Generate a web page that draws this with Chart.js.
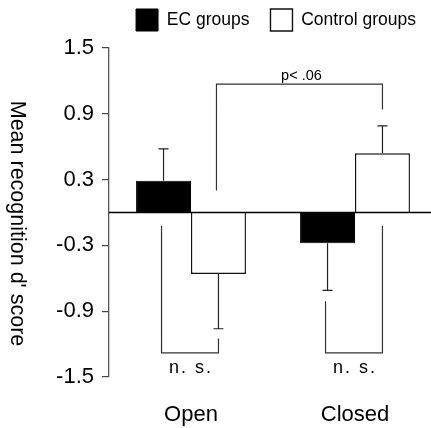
<!DOCTYPE html>
<html>
<head>
<meta charset="utf-8">
<script src="https://cdn.jsdelivr.net/npm/chart.js@4.4.1/dist/chart.umd.min.js"></script>
<style>
    html, body { margin: 0; padding: 0; background: #fff; overflow: hidden; }
    #caja { width: 437px; height: 428px; }
</style>
</head>
<body>
<div id="caja"><canvas id="barras"></canvas></div>
<script>
// datos
var categorias = ["Open", "Closed"];
var valoresEC = [0.29, -0.28];
var erroresEC = [0.29, 0.43];
var valoresControl = [-0.56, 0.54];
var erroresControl = [0.50, 0.25];
var ticksY = [-1.5, -0.9, -0.3, 0.3, 0.9, 1.5];
var tituloY = "Mean recognition d' score";

// comparaciones: [serie, categoría] de cada extremo y alturas en unidades d'
var comparaciones = [
    { desde: [0, 0], hasta: [1, 0], altoDesde: -0.12, altoHasta: -1.15, nivel: -1.28, texto: "n. s." },
    { desde: [0, 1], hasta: [1, 1], altoDesde: -0.81, altoHasta: -0.12, nivel: -1.28, texto: "n. s." },
    { desde: [1, 0], hasta: [1, 1], altoDesde: 0.20, altoHasta: 0.94, nivel: 1.17, texto: "p< .06" }
];

var fuente = "'Liberation Sans', Arial, sans-serif";

/**
 * Plugin para la línea del cero, barras de error, corchetes y título del eje
 */
var pluginExtras = {
    id: "extras",
    beforeLayout: function (chart) {
        var leyenda = chart.legend;
        if (leyenda && !leyenda._ajustada) {
            var fitOriginal = leyenda.fit;
            leyenda.fit = function () {
                fitOriginal.call(this);
                this.height += 7;
            };
            leyenda._ajustada = true;
        }
    },
    afterDatasetsDraw: function (chart) {
        var ctx = chart.ctx;
        var area = chart.chartArea;
        var escalaY = chart.scales.y;
        var cero = escalaY.getPixelForValue(0);

        ctx.save();
        // línea del cero
        ctx.strokeStyle = "#000";
        ctx.lineWidth = 1.3;
        ctx.beginPath();
        ctx.moveTo(area.left, cero);
        ctx.lineTo(chart.width, cero);
        ctx.stroke();

        // barras de error (solo hacia fuera)
        ctx.strokeStyle = "#222";
        ctx.lineWidth = 1.2;
        [[valoresEC, erroresEC], [valoresControl, erroresControl]].forEach(function (serie, i) {
            chart.getDatasetMeta(i).data.forEach(function (barra, j) {
                var v = serie[0][j];
                var fin = v + Math.sign(v) * serie[1][j];
                var y0 = escalaY.getPixelForValue(v);
                var y1 = escalaY.getPixelForValue(fin);
                ctx.beginPath();
                ctx.moveTo(barra.x, y0);
                ctx.lineTo(barra.x, y1);
                ctx.moveTo(barra.x - 5, y1);
                ctx.lineTo(barra.x + 5, y1);
                ctx.stroke();
            });
        });

        // corchetes de comparación
        ctx.strokeStyle = "#333";
        ctx.fillStyle = "#000";
        comparaciones.forEach(function (c) {
            var xa = chart.getDatasetMeta(c.desde[0]).data[c.desde[1]].x - 2;
            var xb = chart.getDatasetMeta(c.hasta[0]).data[c.hasta[1]].x;
            var ya = escalaY.getPixelForValue(c.altoDesde);
            var yb = escalaY.getPixelForValue(c.altoHasta);
            var yn = escalaY.getPixelForValue(c.nivel);
            ctx.beginPath();
            ctx.moveTo(xa, ya);
            ctx.lineTo(xa, yn);
            ctx.lineTo(xb, yn);
            ctx.lineTo(xb, yb);
            ctx.stroke();
            ctx.textAlign = "center";
            if (c.nivel < 0) {
                ctx.font = "18px " + fuente;
                ctx.letterSpacing = "2px";
                ctx.textBaseline = "top";
                ctx.fillText(c.texto, (xa + xb) / 2 + 1, yn + 6);
            } else {
                ctx.font = "14.5px " + fuente;
                ctx.letterSpacing = "0px";
                ctx.textBaseline = "alphabetic";
                ctx.fillText(c.texto, (xa + xb) / 2 + 2, yn - 4);
            }
        });
        ctx.letterSpacing = "0px";

        // título del eje Y, leído de arriba abajo
        ctx.translate(17, (area.top + area.bottom) / 2 + 11);
        ctx.rotate(Math.PI / 2);
        ctx.font = "21.5px " + fuente;
        ctx.textAlign = "center";
        ctx.textBaseline = "middle";
        ctx.fillText(tituloY, 0, 0);
        ctx.restore();
    }
};

function cargaGraficoBarras() {
    var datos = {
        labels: categorias,
        datasets: [{
            label: "EC groups",
            data: valoresEC,
            backgroundColor: "#000",
            borderColor: "#000",
            borderWidth: 1
        }, {
            label: "Control groups",
            data: valoresControl,
            backgroundColor: "#fff",
            borderColor: "#111",
            borderWidth: 1.4
        }]
    };

    var config = {
        type: "bar",
        data: datos,
        plugins: [pluginExtras],
        options: {
            responsive: true,
            maintainAspectRatio: false,
            animation: false,
            layout: { padding: { top: -12, right: 0, left: 0, bottom: 0 } },
            datasets: {
                bar: { barPercentage: 1, categoryPercentage: 0.67 }
            },
            plugins: {
                tooltip: { enabled: false },
                legend: {
                    align: "end",
                    labels: {
                        boxWidth: 22,
                        boxHeight: 22,
                        padding: 21,
                        color: "#000",
                        font: { family: fuente, size: 17.5 }
                    }
                }
            },
            scales: {
                x: {
                    afterFit: function (escala) { escala.height = 51; },
                    grid: { display: false, drawTicks: false },
                    border: { display: false },
                    ticks: {
                        padding: 25,
                        color: "#000",
                        font: { family: fuente, size: 22 }
                    }
                },
                y: {
                    min: -1.5,
                    max: 1.5,
                    afterFit: function (escala) { escala.width = 109; },
                    afterBuildTicks: function (escala) {
                        escala.ticks = ticksY.map(function (v) { return { value: v }; });
                    },
                    grid: {
                        drawOnChartArea: false,
                        tickLength: 7,
                        color: "#444",
                        lineWidth: 1.2
                    },
                    border: { display: true, color: "#555", width: 1.3 },
                    ticks: {
                        padding: 8,
                        color: "#000",
                        font: { family: fuente, size: 22 },
                        callback: function (v) { return v.toFixed(1); }
                    }
                }
            }
        }
    };
    var grafico = document.getElementById("barras").getContext("2d");
    new Chart(grafico, config);
}

cargaGraficoBarras();
</script>
</body>
</html>
